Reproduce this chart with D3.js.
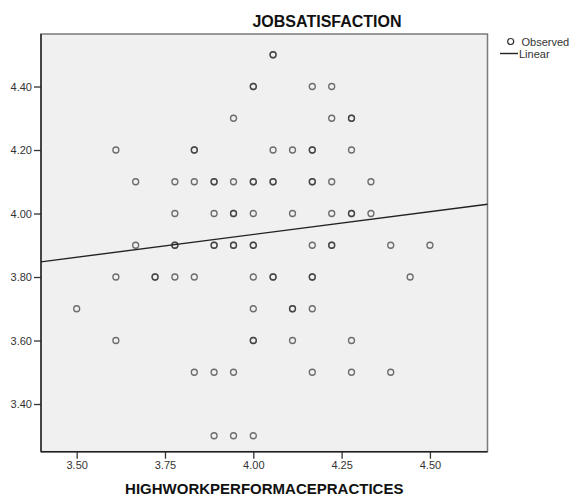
<!DOCTYPE html>
<html>
<head>
<meta charset="utf-8">
<script src="https://cdn.jsdelivr.net/npm/d3@7"></script>
<style>
    body { margin: 0; background: #fff; }
    svg { display: block; font-family: "Liberation Sans", Arial, sans-serif; }
</style>
</head>
<body>
<svg id="chart" width="571" height="496"></svg>
<script>
// --- Data (one row per JOBSATISFACTION level) ---
const jobSatLevels = [4.5, 4.4, 4.3, 4.2, 4.1, 4.0, 3.9, 3.8, 3.7, 3.6, 3.5, 3.3];
const hwppByLevel = [
    [4.056, 4.056],
    [4.000, 4.000, 4.167, 4.222],
    [3.944, 4.222, 4.278, 4.278],
    [3.611, 3.833, 3.833, 4.056, 4.111, 4.167, 4.167, 4.278],
    [3.667, 3.778, 3.833, 3.889, 3.889, 3.944, 4.000, 4.000, 4.056, 4.056, 4.167, 4.167, 4.222, 4.333],
    [3.778, 3.889, 3.944, 3.944, 4.000, 4.111, 4.222, 4.278, 4.278, 4.333],
    [3.667, 3.778, 3.778, 3.889, 3.889, 3.944, 3.944, 4.000, 4.000, 4.167, 4.222, 4.222, 4.389, 4.500],
    [3.611, 3.722, 3.722, 3.778, 3.833, 4.000, 4.056, 4.056, 4.167, 4.167, 4.444],
    [3.500, 4.000, 4.111, 4.111, 4.167],
    [3.611, 4.000, 4.000, 4.111, 4.278],
    [3.833, 3.889, 3.944, 4.167, 4.278, 4.389],
    [3.889, 3.944, 4.000]
];

// linear fit: JOBSATISFACTION = intercept + slope * HWPP
const fitIntercept = 3.360;
const fitSlope = 0.1435;

const xTicks = [3.50, 3.75, 4.00, 4.25, 4.50];
const yTicks = [3.40, 3.60, 3.80, 4.00, 4.20, 4.40];

const points = [];
jobSatLevels.forEach((y, i) => {
    hwppByLevel[i].forEach(x => points.push({ x: x, y: y }));
});

// --- Layout ---
const svg = d3.select("#chart");
const plot = { left: 41, right: 487.5, top: 34, bottom: 451.7 };

const x = d3.scaleLinear().domain([3.399, 4.663]).range([plot.left, plot.right]);
const y = d3.scaleLinear().domain([3.2498, 4.5654]).range([plot.bottom, plot.top]);

// plot background + frame
svg.append("rect")
    .attr("x", plot.left).attr("y", plot.top)
    .attr("width", plot.right - plot.left)
    .attr("height", plot.bottom - plot.top)
    .attr("fill", "#f0f0f0")
    .attr("stroke", "#7a7a7a")
    .attr("stroke-width", 1.5);

// --- Axes ---
const fmt = d3.format(".2f");

const xAxis = svg.append("g")
    .attr("transform", `translate(0,${plot.bottom})`)
    .call(d3.axisBottom(x).tickValues(xTicks).tickFormat(fmt).tickSize(7).tickPadding(3));

const yAxis = svg.append("g")
    .attr("transform", `translate(${plot.left},0)`)
    .call(d3.axisLeft(y).tickValues(yTicks).tickFormat(fmt).tickSize(7).tickPadding(2));

[xAxis, yAxis].forEach(g => {
    g.select(".domain").remove();
    g.selectAll(".tick line").attr("stroke", "#333").attr("stroke-width", 1.3);
    g.selectAll(".tick text")
        .attr("fill", "#333")
        .style("font-size", "11px")
        .style("font-family", "\"Liberation Sans\", Arial, sans-serif");
});

// dark left / bottom axis lines
svg.append("line")
    .attr("x1", plot.left).attr("x2", plot.left)
    .attr("y1", plot.top).attr("y2", plot.bottom)
    .attr("stroke", "#222").attr("stroke-width", 1.4);
svg.append("line")
    .attr("x1", plot.left).attr("x2", plot.right)
    .attr("y1", plot.bottom).attr("y2", plot.bottom)
    .attr("stroke", "#222").attr("stroke-width", 1.4);

// --- Observed points (overlaps come out darker) ---
svg.append("g")
    .selectAll("circle")
    .data(points)
    .join("circle")
    .attr("cx", d => x(d.x))
    .attr("cy", d => y(d.y))
    .attr("r", 3)
    .attr("fill", "none")
    .attr("stroke", "#333")
    .attr("stroke-opacity", 0.7)
    .attr("stroke-width", 1.3);

// --- Linear fit ---
const xDom = x.domain();
svg.append("line")
    .attr("x1", x(xDom[0])).attr("y1", y(fitIntercept + fitSlope * xDom[0]))
    .attr("x2", x(xDom[1])).attr("y2", y(fitIntercept + fitSlope * xDom[1]))
    .attr("stroke", "#222")
    .attr("stroke-width", 1.4);

// --- Titles ---
svg.append("text")
    .attr("x", 327).attr("y", 27)
    .attr("text-anchor", "middle")
    .style("font-size", "16px").style("font-weight", "bold")
    .attr("fill", "#111")
    .text("JOBSATISFACTION");

svg.append("text")
    .attr("x", (plot.left + plot.right) / 2).attr("y", 493.5)
    .attr("text-anchor", "middle")
    .style("font-size", "15px").style("font-weight", "bold")
    .attr("fill", "#111")
    .text("HIGHWORKPERFORMACEPRACTICES");

// --- Legend ---
const legend = svg.append("g");
legend.append("circle")
    .attr("cx", 510.7).attr("cy", 41.5).attr("r", 3)
    .attr("fill", "none").attr("stroke", "#333").attr("stroke-width", 1.2);
legend.append("text")
    .attr("x", 521.5).attr("y", 46)
    .style("font-size", "11px").attr("fill", "#333")
    .text("Observed");
legend.append("line")
    .attr("x1", 500).attr("x2", 518).attr("y1", 53.5).attr("y2", 53.5)
    .attr("stroke", "#222").attr("stroke-width", 1.4);
legend.append("text")
    .attr("x", 519).attr("y", 57.5)
    .style("font-size", "11px").attr("fill", "#333")
    .text("Linear");
</script>
</body>
</html>
